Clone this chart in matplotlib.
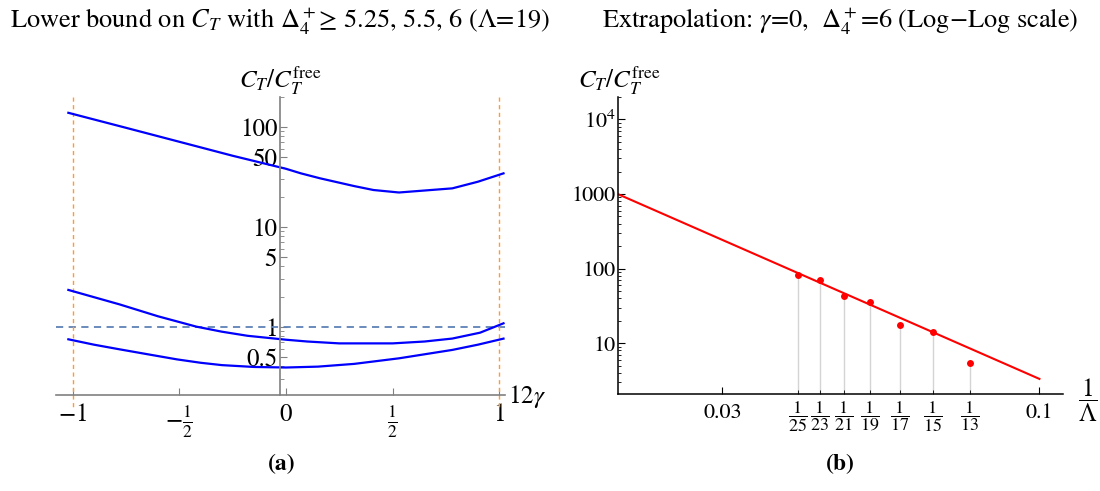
#!/usr/bin/env python3
"""
C_T lower bounds: (a) bound vs 12*gamma for three gaps, (b) log-log extrapolation in 1/Lambda.
"""

import matplotlib
matplotlib.use("Agg")
import matplotlib.pyplot as plt
from matplotlib.ticker import FixedLocator, FixedFormatter, NullFormatter, LogLocator
from matplotlib.transforms import blended_transform_factory

plt.rcParams["font.family"] = ["STIXGeneral", "DejaVu Serif"]
plt.rcParams["mathtext.fontset"] = "stix"

# ---- panel (a): lower bound on C_T / C_T^free vs 12 gamma ----
gamma_top = [-1.02, -0.75, -0.5, -0.25, 0.0, 0.07, 0.16, 0.32, 0.41, 0.53, 0.78, 0.9, 1.02]
ct_top = [138, 97.7, 70.8, 51.3, 38, 34.2, 30.5, 25.5, 23.3, 22, 24.2, 28.2, 34.2]

gamma_mid = [-1.02, -0.78, -0.6, -0.42, -0.3, -0.18, 0.0, 0.1, 0.25, 0.5, 0.65, 0.78, 0.91, 1.02]
ct_mid = [2.33, 1.67, 1.27, 1.0, 0.89, 0.81, 0.74, 0.71, 0.68, 0.68, 0.71, 0.76, 0.87, 1.08]

gamma_low = [-1.02, -0.9, -0.78, -0.65, -0.51, -0.4, -0.3, -0.15, 0.0, 0.15, 0.32, 0.53, 0.78, 0.9, 1.02]
ct_low = [0.747, 0.66, 0.593, 0.53, 0.47, 0.435, 0.412, 0.395, 0.39, 0.398, 0.424, 0.482, 0.585, 0.66, 0.759]

gamma_ticks = [-1, -0.5, 0, 0.5, 1]
gamma_tick_labels = [r"$-1$", r"$-\frac{1}{2}$", "0", r"$\frac{1}{2}$", "1"]
ct_ticks_a = [0.5, 1, 5, 10, 50, 100]
ct_tick_labels_a = ["0.5", "1", "5", "10", "50", "100"]
ct_minor_a = [0.3, 0.4, 0.6, 0.7, 0.8, 0.9, 2, 3, 4, 6, 7, 8, 9,
              20, 30, 40, 60, 70, 80, 90, 200]
gamma_bounds = [-1, 1]

# ---- panel (b): extrapolation at gamma=0, Delta_4^+ = 6 ----
lam_inv = [1 / 25, 1 / 23, 1 / 21, 1 / 19, 1 / 17, 1 / 15, 1 / 13]
lam_labels = [r"$\dfrac{1}{%d}$" % n for n in (25, 23, 21, 19, 17, 15, 13)]
ct_points = [81.3, 71.3, 42.6, 36.1, 17.8, 14.0, 5.4]
fit_x = [0.0202, 0.1]
fit_y = [990, 3.33]
x_ticks_b = [0.03, 0.1]
x_tick_labels_b = ["0.03", "0.1"]
ct_ticks_b = [10, 100, 1000, 1e4]
ct_tick_labels_b = ["10", "100", "1000", r"$10^4$"]

W, H = 1100, 491
GRAY = "#808080"


def add_px_axes(fig, left, right, top, bottom):
    """Axes placed by pixel edges (origin top-left)."""
    return fig.add_axes([left / W, 1 - bottom / H, (right - left) / W, (bottom - top) / H])


def draw_panel_a(fig):
    ax = add_px_axes(fig, 56, 505, 96.7, 395)
    ax.set_yscale("log")
    ax.set_xlim(-1.078, 1.027)
    ax.set_ylim(0.207, 200)

    for s in ("top", "right"):
        ax.spines[s].set_visible(False)
    ax.spines["left"].set_position(("data", -0.028))
    for s in ("left", "bottom"):
        ax.spines[s].set_color(GRAY)
        ax.spines[s].set_linewidth(1.2)

    ax.set_xticks(gamma_ticks)
    ax.set_xticklabels(gamma_tick_labels)
    ax.tick_params(axis="x", direction="in", length=5, color=GRAY, pad=6, labelsize=18)

    ax.yaxis.set_major_locator(FixedLocator(ct_ticks_a))
    ax.yaxis.set_major_formatter(FixedFormatter(ct_tick_labels_a))
    ax.yaxis.set_minor_locator(FixedLocator(ct_minor_a))
    ax.yaxis.set_minor_formatter(NullFormatter())
    ax.tick_params(axis="y", which="both", direction="in", color=GRAY, pad=2, labelsize=18)
    ax.tick_params(axis="y", which="major", length=5)
    ax.tick_params(axis="y", which="minor", length=3)

    ax.axhline(1, color="#5E81B5", ls=(0, (4, 3)), lw=1.3)
    trans = blended_transform_factory(ax.transData, ax.transAxes)
    for xv in gamma_bounds:
        ax.plot([xv, xv], [1.0, -0.05], transform=trans, color="#FF9A2E",
                ls=(0, (3, 2.5)), lw=1, clip_on=False)

    for xs, ys in ((gamma_top, ct_top), (gamma_mid, ct_mid), (gamma_low, ct_low)):
        ax.plot(xs, ys, color="#0000FF", lw=1.6, clip_on=False)

    fig.text(280 / W, 1 - 80 / H, r"$C_T/C_T^{\mathrm{free}}$", ha="center", va="center", fontsize=18)
    fig.text(508 / W, 1 - 397 / H, r"$12\gamma$", ha="left", va="center", fontsize=18)
    fig.text(280 / W, 1 - 21 / H,
             r"Lower bound on $C_T$ with $\Delta_4^+$≥ 5.25, 5.5, 6 (Λ=19)",
             ha="center", va="center", fontsize=19)
    fig.text(282 / W, 1 - 465 / H, "(a)", ha="center", va="center", fontsize=17, fontweight="bold")


def draw_panel_b(fig):
    ax = add_px_axes(fig, 618.3, 1063.3, 96.7, 394)
    ax.set_xscale("log")
    ax.set_yscale("log")
    ax.set_xlim(0.0202, 0.1095)
    ax.set_ylim(2.09, 20100)

    for s in ("top", "right"):
        ax.spines[s].set_visible(False)
    for s in ("left", "bottom"):
        ax.spines[s].set_color("black")
        ax.spines[s].set_linewidth(1.1)

    ax.xaxis.set_major_locator(FixedLocator(x_ticks_b))
    ax.xaxis.set_major_formatter(FixedFormatter(x_tick_labels_b))
    ax.xaxis.set_minor_locator(FixedLocator(lam_inv))
    ax.xaxis.set_minor_formatter(FixedFormatter(lam_labels))
    ax.tick_params(axis="x", which="major", direction="in", length=5, pad=7, labelsize=16)
    ax.tick_params(axis="x", which="minor", direction="in", length=3, pad=4, labelsize=13)

    ax.yaxis.set_major_locator(FixedLocator(ct_ticks_b))
    ax.yaxis.set_major_formatter(FixedFormatter(ct_tick_labels_b))
    ax.yaxis.set_minor_locator(LogLocator(base=10, subs=range(2, 10)))
    ax.yaxis.set_minor_formatter(NullFormatter())
    ax.tick_params(axis="y", which="both", direction="in", pad=2, labelsize=16)
    ax.tick_params(axis="y", which="major", length=5)
    ax.tick_params(axis="y", which="minor", length=2.5)

    ax.vlines(lam_inv, 2.09, ct_points, colors="#d4d4d4", lw=1, zorder=1)
    ax.plot(fit_x, fit_y, color="red", lw=1.5, zorder=2)
    ax.plot(lam_inv, ct_points, "o", color="red", ms=5, mec="none", zorder=3)

    fig.text(619 / W, 1 - 80 / H, r"$C_T/C_T^{\mathrm{free}}$", ha="center", va="center", fontsize=18)
    fig.text(1088 / W, 1 - 400 / H, r"$\dfrac{1}{\Lambda}$", ha="center", va="center", fontsize=18)
    fig.text(840 / W, 1 - 21 / H,
             r"Extrapolation: $\gamma$=0,  $\Delta_4^+$=6 (Log$-$Log scale)",
             ha="center", va="center", fontsize=19)
    fig.text(840 / W, 1 - 465 / H, "(b)", ha="center", va="center", fontsize=17, fontweight="bold")


def main():
    fig = plt.figure(figsize=(W / 100, H / 100), dpi=100)
    draw_panel_a(fig)
    draw_panel_b(fig)
    fig.savefig("out.png", dpi=100)


if __name__ == "__main__":
    main()
